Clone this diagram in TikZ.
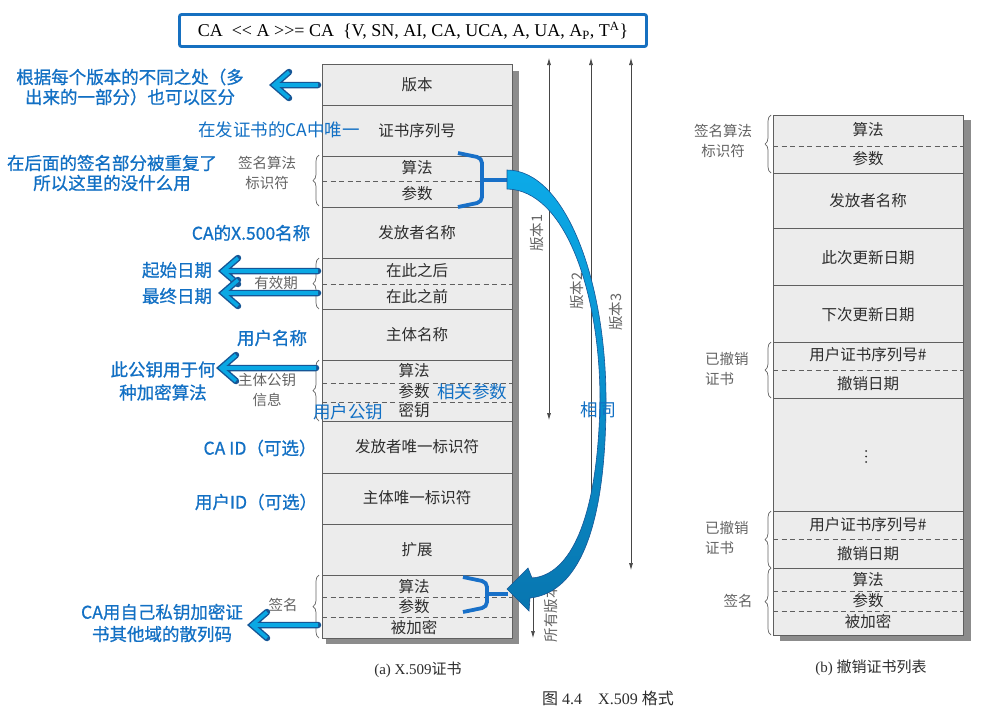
\documentclass[tikz,border=0pt]{standalone}
\usepackage{fontspec}
\newfontfamily\cjk{Noto Sans CJK SC}
\newfontfamily\cjkb[FakeBold=0.8]{Noto Sans CJK SC}
\newfontfamily\tms{Liberation Serif}
\usetikzlibrary{calc,arrows.meta,decorations.pathreplacing}

\definecolor{noteblue}{RGB}{18,112,196}
\definecolor{arrowfill}{RGB}{10,168,228}
\definecolor{arrowedge}{RGB}{22,86,150}
\definecolor{boxblue}{RGB}{22,112,192}
\definecolor{brk}{RGB}{24,112,200}
\definecolor{tblfill}{RGB}{236,236,236}
\definecolor{tblline}{RGB}{95,95,95}
\definecolor{tbltext}{RGB}{45,45,45}
\definecolor{sidetext}{RGB}{100,100,100}
\definecolor{shadowgray}{RGB}{140,140,140}
\definecolor{verline}{RGB}{70,70,70}
\definecolor{curvetop}{RGB}{12,170,232}
\definecolor{curvebot}{RGB}{8,118,176}

\tikzset{
  cell/.style={font=\cjk\fontsize{15.5}{17}\selectfont, text=tbltext, inner sep=0pt},
  side/.style={font=\cjk\fontsize{14.5}{20}\selectfont, text=sidetext, align=center, inner sep=0pt},
  note/.style={font=\cjkb\fontsize{17.5}{20}\selectfont, text=noteblue, align=center, inner sep=0pt},
  lightnote/.style={note, font=\cjk\fontsize{17.5}{20}\selectfont},
  rule/.style={draw=tblline, line width=0.9pt},
  dashrule/.style={draw=tblline, line width=0.8pt, dash pattern=on 5pt off 3.5pt},
  lbrace/.style={draw=sidetext, line width=0.7pt, decorate, decoration={brace, amplitude=6pt}},
  verarrow/.style={draw=verline, line width=0.7pt, {Latex[length=7pt,width=4pt]}-{Latex[length=7pt,width=4pt]}},
  verlabel/.style={font=\cjk\fontsize{14.5}{16}\selectfont, text=sidetext, rotate=90, inner sep=0pt},
  bracket/.style={draw=brk, line width=3.8pt, rounded corners=5pt},
  arrdark/.style={draw=arrowedge, line width=6.5pt, line cap=round, line join=miter},
  arrlight/.style={draw=arrowfill, line width=3.6pt, line cap=butt, line join=miter},
  caption/.style={font=\fontsize{15}{17}\selectfont, text=tbltext, inner sep=0pt},
}

% thick outlined note arrow: #1 tail coordinate, #2 tip coordinate
\newcommand\notearrow[2]{%
  \draw[arrdark] ($(#2)+(15,-13)$) -- (#2) -- ($(#2)+(15,13)$) (#2) -- (#1);
  \draw[arrlight] ($(#2)+(15,-13)$) -- (#2) -- ($(#2)+(15,13)$) (#2) -- (#1);
}

\begin{document}
\begin{tikzpicture}[x=1pt,y=-1pt]
\useasboundingbox (0,0) rectangle (1000,713);
\fill[white] (0,0) rectangle (1000,713);

% ---------- formula box ----------
\node[draw=boxblue, line width=2.8pt, rounded corners=2pt, fill=white,
      minimum width=467pt, minimum height=32pt, inner sep=0pt,
      font=\tms\fontsize{18}{20}\selectfont] (formula) at (413,30.5)
  {CA\ \ << A >>= CA\ \ \{V, SN, AI, CA, UCA, A, UA, A\textsubscript{P}, T\textsuperscript{A}\}};

% ---------- (a) certificate ----------
\fill[shadowgray] (326,71) rectangle (519,644);
\draw[rule, fill=tblfill] (322,64) rectangle (512,638);
\foreach \y in {105,156,207,258,309,360,421,473,524,575}
  \draw[rule] (322,\y) -- (512,\y);
\foreach \y in {181,284,383,402,597,617}
  \draw[dashrule] (322,\y) -- (512,\y);

\node[cell] (c1)  at (417,85)  {版本};
\node[cell] (c2)  at (417,131) {证书序列号};
\node[cell] (c3)  at (417,168) {算法};
\node[cell] (c4)  at (417,194) {参数};
\node[cell] (c5)  at (417,233) {发放者名称};
\node[cell] (c6)  at (417,271) {在此之后};
\node[cell] (c7)  at (417,297) {在此之前};
\node[cell] (c8)  at (417,335) {主体名称};
\node[cell] (c9)  at (414,371) {算法};
\node[cell] (c10) at (414,392) {参数};
\node[cell] (c11) at (414,411) {密钥};
\node[cell] (c12) at (417,447) {发放者唯一标识符};
\node[cell] (c13) at (417,498) {主体唯一标识符};
\node[cell] (c14) at (417,550) {扩展};
\node[cell] (c15) at (414,587) {算法};
\node[cell] (c16) at (414,607) {参数};
\node[cell] (c17) at (414,628) {被加密};

\draw[lbrace] (319,206) -- (319,155);
\draw[lbrace] (319,309) -- (319,258);
\draw[lbrace] (319,421) -- (319,360);
\draw[lbrace] (319,638) -- (319,575);
\node[side] (s1) at (267,173) {签名算法\\标识符};
\node[side] (s2) at (276,283) {有效期};
\node[side] (s3) at (267,390) {主体公钥\\信息};
\node[side] (s4) at (283,605) {签名};

\node[caption] (capa) at (418,670) {{\tms (a) X.509}{\cjk 证书}};

% ---------- version ranges ----------
\coordinate (v1a) at (549,58);  \coordinate (v1b) at (549,420);
\coordinate (v2a) at (591,58);  \coordinate (v2b) at (591,523);
\coordinate (v3a) at (631,58);  \coordinate (v3b) at (631,570);
\coordinate (v4a) at (533,576); \coordinate (v4b) at (533,638);
\draw[verarrow] (v1a) -- (v1b);
\draw[verarrow] (v2a) -- (v2b);
\draw[verarrow] (v3a) -- (v3b);
\draw[verarrow] (v4a) -- (v4b);
\node[verlabel] (l1) at (537,233) {版本1};
\node[verlabel] (l2) at (577,291) {版本2};
\node[verlabel] (l3) at (616,312) {版本3};
\node[verlabel] (l4) at (551,613) {所有版本};

% ---------- (b) revocation list ----------
\fill[shadowgray] (780,120) rectangle (971,641);
\draw[rule, fill=tblfill] (773,115) rectangle (963,635);
\foreach \y in {173,228,285,342,398,511,568}
  \draw[rule] (773,\y) -- (963,\y);
\foreach \y in {146,370,539,591,611}
  \draw[dashrule] (773,\y) -- (963,\y);

\node[cell] (r1)  at (868,130) {算法};
\node[cell] (r2)  at (868,159) {参数};
\node[cell] (r3)  at (868,201) {发放者名称};
\node[cell] (r4)  at (868,258) {此次更新日期};
\node[cell] (r5)  at (868,315) {下次更新日期};
\node[cell] (r6)  at (868,355) {用户证书序列号\#};
\node[cell] (r7)  at (868,384) {撤销日期};
% vertical ellipsis between the entries
\foreach \y in {451,456.5,462}
  \fill[tbltext] (866,\y) circle (1pt);
\node[cell] (r9)  at (868,525) {用户证书序列号\#};
\node[cell] (r10) at (868,554) {撤销日期};
\node[cell] (r11) at (868,580) {算法};
\node[cell] (r12) at (868,601) {参数};
\node[cell] (r13) at (868,622) {被加密};

\draw[lbrace] (771,173) -- (771,115);
\draw[lbrace] (771,398) -- (771,342);
\draw[lbrace] (771,568) -- (771,511);
\draw[lbrace] (771,635) -- (771,568);
\node[side] (t1) at (723,141) {签名算法\\标识符};
\node[side, align=left, anchor=west] (t2) at (705,369) {已撤销\\证书};
\node[side, align=left, anchor=west] (t3) at (705,538) {已撤销\\证书};
\node[side] (t4) at (738,601) {签名};

\node[caption] (capb) at (871,668) {{\tms (b) }{\cjk 撤销证书列表}};
\node[caption, font=\fontsize{16}{18}\selectfont] (fig) at (608,698)
  {{\cjk 图}{\tms\ 4.4\quad X.509 }{\cjk 格式}};

% ---------- blue annotations ----------
\node[note] (n1)  at (130,87)  {根据每个版本的不同之处（多\\出来的一部分）也可以区分};
\node[lightnote] (n2)  at (279,130) {在发证书的CA中唯一};
\node[note] (n3)  at (112,173) {在后面的签名部分被重复了\\所以这里的没什么用};
\node[note] (n4)  at (251,233) {CA的X.500名称};
\node[note] (n5)  at (177,270) {起始日期};
\node[note] (n6)  at (177,296) {最终日期};
\node[note] (n7)  at (272,338) {用户名称};
\node[note, font=\cjkb\fontsize{17.5}{23}\selectfont] (n8) at (163,381) {此公钥用于何\\种加密算法};
\node[lightnote] (n9)  at (348,412) {用户公钥};
\node[lightnote] (n10) at (472,392) {相关参数};
\node[note] (n11) at (260,448) {CA ID（可选）};
\node[note] (n12) at (256,502) {用户ID（可选）};
\node[note, font=\cjkb\fontsize{17.5}{22}\selectfont] (n13) at (162,623) {CA用自己私钥加密证\\书其他域的散列码};

% note arrows
\coordinate (a1s) at (318,85);  \coordinate (a1t) at (274,85);
\coordinate (a2s) at (318,271); \coordinate (a2t) at (223,271);
\coordinate (a3s) at (318,293); \coordinate (a3t) at (223,293);
\coordinate (a4s) at (316,368); \coordinate (a4t) at (221,368);
\coordinate (a5s) at (318,625); \coordinate (a5t) at (252,625);
\notearrow{a1s}{a1t}
\notearrow{a2s}{a2t}
\notearrow{a3s}{a3t}
\notearrow{a4s}{a4t}
\notearrow{a5s}{a5t}

% brackets around the two signature algorithm fields
\draw[bracket] (458,153) -- (482,158) -- (482,202) -- (458,207);
\draw[brk, line width=3.8pt] (482,180) -- (508,180);
\draw[bracket] (463,577) -- (487,582) -- (487,607) -- (463,612);
\draw[brk, line width=3.8pt] (487,594) -- (508,594);

% curved "same" arrow
\coordinate (ctop) at (507,180);
\coordinate (cbot) at (507,589);
\shadedraw[top color=curvetop, bottom color=curvebot, draw=arrowedge, line width=0.6pt, line join=miter]
  (507,170) .. controls (565,170) and (606,280) .. (606,400)
  .. controls (606,520) and (582,592) .. (530,598)
  -- (529,611) -- (cbot) -- (528,568) -- (532,578)
  .. controls (570,575) and (598,520) .. (600,400)
  .. controls (600,292) and (565,190) .. (507,189) -- cycle;
\node[lightnote] (same) at (598,410) {相同};

\end{tikzpicture}
\end{document}
